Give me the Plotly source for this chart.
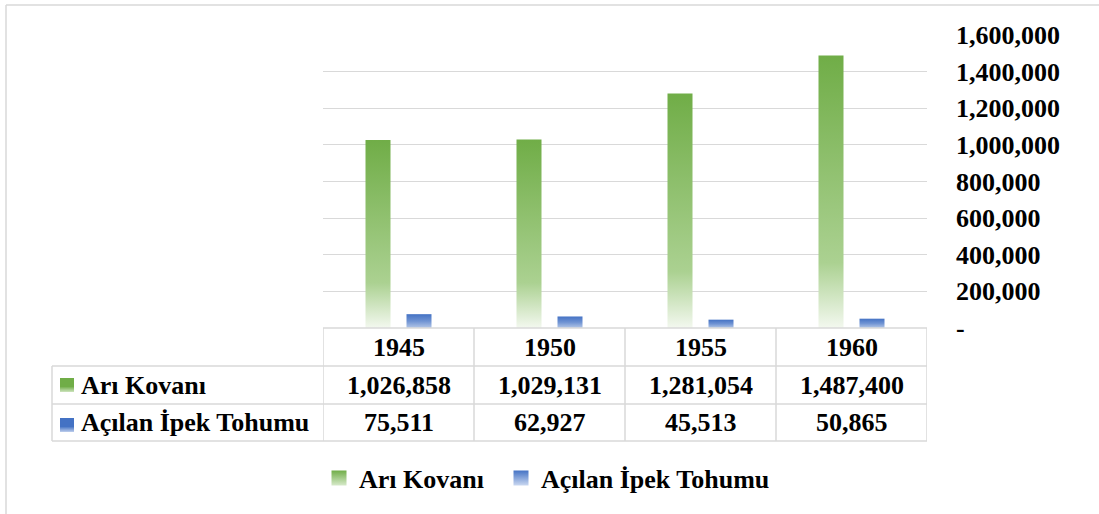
import plotly.graph_objects as go

# ---- data -------------------------------------------------------------
years = ["1945", "1950", "1955", "1960"]
ari_kovani = [1026858, 1029131, 1281054, 1487400]
ipek_tohumu = [75511, 62927, 45513, 50865]
series_names = ["Arı Kovanı", "Açılan İpek Tohumu"]
y_tickvals = [0, 200000, 400000, 600000, 800000, 1000000, 1200000, 1400000, 1600000]
y_ticktext = ["-", "200,000", "400,000", "600,000", "800,000",
              "1,000,000", "1,200,000", "1,400,000", "1,600,000"]

# ---- geometry -----------------------------------------------------------
W, H = 1099, 514
L, R, T, B = 323, 172, 35, 186
PW, PH = W - L - R, H - T - B
Y_MAX = 1600000
CAT_PX = PW / len(years)          # pixel width of one category slot
BAR_W = 25 / CAT_PX               # bar width in category units
OFFSET = 20.5 / CAT_PX            # bar centre offset from category centre

FONT = "Liberation Serif, Times New Roman, serif"
GRID = "#d9d9d9"
GREEN, BLUE = "#70ad47", "#4472c4"
GREEN_FADE, BLUE_FADE = "#d6e9c9", "#c9d7f0"
GREEN_SCALE = [[0, "#f3f8ef"], [0.24, "#abd191"], [1, GREEN]]
BLUE_SCALE = [[0, "#b4c7e7"], [0.5, "#6f93d3"], [1, BLUE]]


def paper_x(px):
    return (px - L) / PW


def paper_y(py):
    return (H - B - py) / PH


def mix(c1, c2, t):
    a = [int(c1[k:k + 2], 16) for k in (1, 3, 5)]
    b = [int(c2[k:k + 2], 16) for k in (1, 3, 5)]
    return "#" + "".join(f"{round(p + (q - p) * t):02x}" for p, q in zip(a, b))


fig = go.Figure()

# ---- gradient columns --------------------------------------------------
for values, off, scale in ((ari_kovani, -OFFSET, GREEN_SCALE),
                           (ipek_tohumu, OFFSET, BLUE_SCALE)):
    for i, v in enumerate(values):
        x0 = i + off - BAR_W / 2
        x1 = i + off + BAR_W / 2
        fig.add_trace(go.Scatter(
            x=[x0, x0, x1, x1, x0], y=[0, v, v, 0, 0],
            mode="none", fill="toself",
            fillgradient=dict(type="vertical", colorscale=scale, start=0, stop=v),
            showlegend=False, hoverinfo="skip",
        ))

# ---- legend entries (one legend box per series) ------------------------
for name, col, fade, lg in ((series_names[0], GREEN, GREEN_FADE, "legend"),
                            (series_names[1], BLUE, BLUE_FADE, "legend2")):
    fig.add_trace(go.Scatter(
        x=[None], y=[None], mode="markers", name=name, legend=lg,
        marker=dict(symbol="square", size=15, color=col, line=dict(width=0),
                    gradient=dict(type="vertical", color=fade)),
    ))

shapes = []

# ---- colour keys in the data table rows (solid top, fading bottom) -----
KEY_X0, KEY_SIZE = 60, 14
for top, col, fade in ((378, GREEN, GREEN_FADE), (418, BLUE, BLUE_FADE)):
    for s in range(KEY_SIZE):
        t = max(0.0, (s - 8) / (KEY_SIZE - 8))
        shapes.append(dict(type="rect", xref="paper", yref="paper",
                           x0=paper_x(KEY_X0), x1=paper_x(KEY_X0 + KEY_SIZE),
                           y0=paper_y(top + s), y1=paper_y(top + s + 1),
                           fillcolor=mix(col, fade, t), line=dict(width=0), layer="above"))

# ---- data table ---------------------------------------------------------
line = dict(color=GRID, width=1.5)
rows_py = [328, 366, 404, 441]
# horizontal rules
shapes.append(dict(type="line", xref="x", yref="paper", x0=-0.5, x1=len(years) - 0.5,
                   y0=paper_y(rows_py[0]), y1=paper_y(rows_py[0]), line=line))
for py in rows_py[1:]:
    shapes.append(dict(type="line", xref="paper", yref="paper", x0=paper_x(52), x1=1,
                       y0=paper_y(py), y1=paper_y(py), line=line))
# vertical rules at category boundaries
for k in range(len(years) + 1):
    shapes.append(dict(type="line", xref="x", yref="paper", x0=k - 0.5, x1=k - 0.5,
                       y0=paper_y(rows_py[0]), y1=paper_y(rows_py[-1]), line=line))
shapes.append(dict(type="line", xref="paper", yref="paper", x0=paper_x(52), x1=paper_x(52),
                   y0=paper_y(rows_py[1]), y1=paper_y(rows_py[-1]), line=line))
# chart frame
shapes.append(dict(type="line", xref="paper", yref="paper", x0=paper_x(6), x1=paper_x(6),
                   y0=paper_y(5), y1=paper_y(H + 2), line=line))
shapes.append(dict(type="line", xref="paper", yref="paper", x0=paper_x(6), x1=paper_x(W + 2),
                   y0=paper_y(5), y1=paper_y(5), line=line))

tfont = dict(family=FONT, size=26, color="black", weight="bold")
annotations = []
row_centres = [(rows_py[k] + rows_py[k + 1]) / 2 for k in range(3)]
for i, yr in enumerate(years):
    annotations.append(dict(x=i, xref="x", xanchor="center",
                            y=paper_y(row_centres[0]), yref="paper", yanchor="middle",
                            text=yr, showarrow=False, font=tfont))
for r, values in enumerate((ari_kovani, ipek_tohumu)):
    yc = paper_y(row_centres[r + 1])
    annotations.append(dict(x=paper_x(79), xref="paper", xanchor="left",
                            y=yc, yref="paper", yanchor="middle",
                            text=series_names[r], showarrow=False, font=tfont))
    for i, v in enumerate(values):
        annotations.append(dict(x=i, xref="x", xanchor="center",
                                y=yc, yref="paper", yanchor="middle",
                                text=f"{v:,}", showarrow=False, font=tfont))

legend_common = dict(orientation="h", xanchor="left", y=paper_y(478), yanchor="middle",
                     font=tfont, bgcolor="rgba(0,0,0,0)", itemwidth=30)

fig.update_layout(
    width=W, height=H,
    margin=dict(l=L, r=R, t=T, b=B, autoexpand=False),
    paper_bgcolor="white", plot_bgcolor="white",
    font=dict(family=FONT, size=26, color="black"),
    xaxis=dict(range=[-0.5, len(years) - 0.5], showticklabels=False, showgrid=False,
               zeroline=False, showline=False, ticks="", fixedrange=True),
    yaxis=dict(range=[0, Y_MAX], side="right", tickvals=y_tickvals, ticktext=y_ticktext,
               showgrid=True, gridcolor=GRID, gridwidth=1.3, zeroline=False, showline=False,
               ticks="", ticklabelstandoff=28,
               tickfont=dict(family=FONT, size=26, color="black", weight="bold")),
    legend=dict(x=paper_x(319), **legend_common),
    legend2=dict(x=paper_x(501), **legend_common),
    shapes=shapes, annotations=annotations,
)

fig.write_html("out.html")
